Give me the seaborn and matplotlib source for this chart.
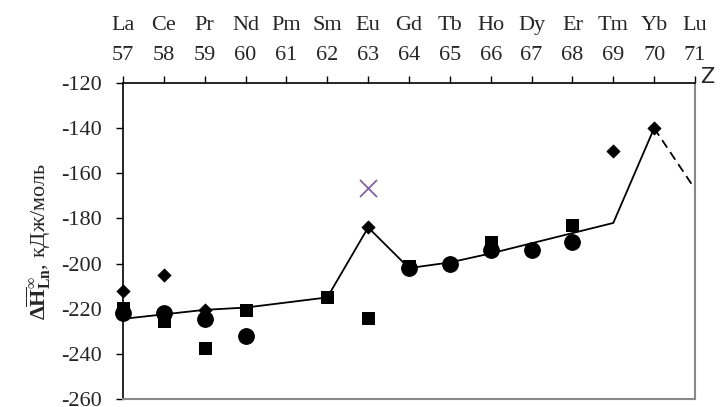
import matplotlib
matplotlib.use("Agg")
from matplotlib import pyplot as plt
import seaborn as sns

# atomic numbers and element symbols shown on the top axis
z_ticks = list(range(57, 72))
elements = ["La", "Ce", "Pr", "Nd", "Pm", "Sm", "Eu", "Gd", "Tb", "Ho",
            "Dy", "Er", "Tm", "Yb", "Lu"]

# solid trend line
line_z = [57, 58, 59, 60, 62, 63, 64, 65, 66, 67, 68, 69, 70]
line_h = [-224.5, -222.5, -220.5, -219.5, -215, -184, -202, -199.5, -195.5, -191, -186.5, -182, -140]

# dashed continuation
dash_z = [70, 71]
dash_h = [-140, -167]

# diamonds
dia_z = [57, 58, 59, 63, 69, 70]
dia_h = [-212, -205, -220.5, -184, -150, -140]

# squares
sq_z = [57, 58, 59, 60, 62, 63, 64, 66, 68]
sq_h = [-219.5, -225.5, -237.5, -220.5, -215, -224, -201, -190.5, -183]

# circles
ci_z = [57, 58, 59, 60, 64, 65, 66, 67, 68]
ci_h = [-222, -222, -224.5, -232.3, -202, -200, -194, -193.8, -190.3]

# cross
x_z = [63]
x_h = [-166.4]

sns.set_style("white")
plt.rcParams["font.family"] = ["Liberation Serif", "DejaVu Serif"]
plt.rcParams["axes.unicode_minus"] = False
plt.rcParams["mathtext.fontset"] = "custom"
plt.rcParams["mathtext.rm"] = "Liberation Serif"
plt.rcParams["mathtext.it"] = "Liberation Serif:italic"
plt.rcParams["mathtext.bf"] = "Liberation Serif:bold"

fig = plt.figure(figsize=(7.22, 4.07), dpi=100)
ax = fig.add_axes([0.1704, 0.0197, 0.7922, 0.7763])

sns.lineplot(x=line_z, y=line_h, ax=ax, color="black", linewidth=1.3, sort=False)
sns.lineplot(x=dash_z, y=dash_h, ax=ax, color="black", linewidth=1.3,
             linestyle=(0, (5, 3)), sort=False)
sns.scatterplot(x=ci_z, y=ci_h, ax=ax, marker="o", s=125, color="black", edgecolor="black",
                zorder=3, clip_on=False)
sns.scatterplot(x=sq_z, y=sq_h, ax=ax, marker="s", s=80, color="black", edgecolor="black",
                zorder=4, clip_on=False)
sns.scatterplot(x=dia_z, y=dia_h, ax=ax, marker="D", s=45, color="black", edgecolor="black",
                zorder=5, clip_on=False)
sns.scatterplot(x=x_z, y=x_h, ax=ax, marker="x", s=150, color="#8064A2", linewidth=1.3, zorder=5)

ax.set_xlim(57, 71)
ax.set_ylim(-260, -120)
ax.set_yticks(range(-260, -119, 20))
ax.tick_params(axis="y", labelsize=16, direction="out", length=5, width=1, color="black",
               left=True, pad=10)

ax.xaxis.tick_top()
ax.set_xticks(z_ticks)
ax.set_xticklabels([f"{el}\n{z}" for el, z in zip(elements, z_ticks)], linespacing=1.75)
ax.tick_params(axis="x", labelsize=16, direction="out", length=5, width=1, color="black",
               top=True, pad=8)

for side in ["left", "top"]:
    ax.spines[side].set_color("black")
    ax.spines[side].set_linewidth(1.2)
for side in ["right", "bottom"]:
    ax.spines[side].set_color("#888888")
    ax.spines[side].set_linewidth(1.5)

ax.set_ylabel(r"$\mathbf{\Delta\overline{H}^{\infty}_{Ln}}$, кДж/моль", fontsize=16, labelpad=6)
fig.text(0.99, 1 - 77 / 407, "Z", fontsize=15, family="DejaVu Sans", ha="right", va="center")

fig.savefig("out.png", dpi=100)
